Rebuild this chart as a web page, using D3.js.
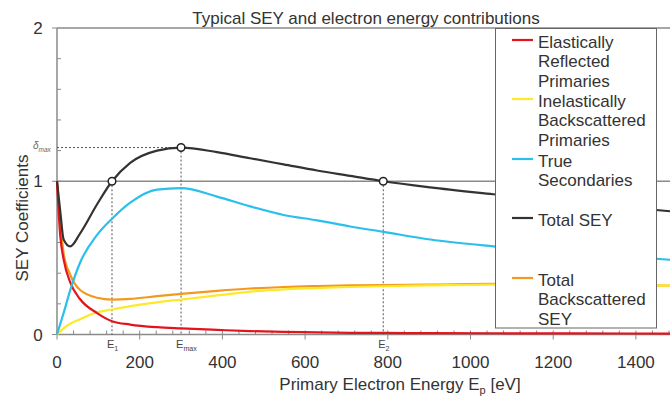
<!DOCTYPE html>
<html>
<head>
<meta charset="utf-8">
<script src="https://cdn.jsdelivr.net/npm/d3@7"></script>
<style>
  body { margin: 0; background: #fff; }
  svg { display: block; font-family: "Liberation Sans", Arial, sans-serif; }
</style>
</head>
<body>
<div id="app"></div>
<script>
const energies = [0, 8, 16, 32, 56, 97, 133, 177, 242, 300, 387, 467, 548, 629, 709, 789, 903, 1055, 1250, 1500];
const elastic = [1.0, 0.64, 0.49, 0.34, 0.23, 0.14, 0.087, 0.065, 0.048, 0.04, 0.03, 0.022, 0.017, 0.014, 0.011, 0.01, 0.009, 0.008, 0.007, 0.006];
const inelastic = [0, 0.02, 0.04, 0.07, 0.1, 0.145, 0.163, 0.185, 0.21, 0.228, 0.255, 0.28, 0.295, 0.303, 0.31, 0.315, 0.32, 0.325, 0.322, 0.318];
const trueSec = [0, 0.07, 0.14, 0.29, 0.47, 0.65, 0.755, 0.86, 0.945, 0.955, 0.9, 0.836, 0.78, 0.745, 0.705, 0.67, 0.62, 0.575, 0.53, 0.485];
const totalSey = [1.0, 0.8, 0.62, 0.575, 0.66, 0.85, 1.0, 1.12, 1.2, 1.22, 1.19, 1.15, 1.11, 1.07, 1.035, 1.0, 0.96, 0.915, 0.86, 0.8];
const totalBack = [1.0, 0.73, 0.53, 0.39, 0.29, 0.24, 0.228, 0.232, 0.25, 0.265, 0.285, 0.3, 0.31, 0.316, 0.32, 0.322, 0.325, 0.33, 0.325, 0.318];

const xTicks = [0, 200, 400, 600, 800, 1000, 1200, 1400];
const yTicks = [0, 1, 2];

// special points on the total SEY curve
const e1 = 133, eMax = 300, e2 = 789, deltaMax = 1.22;

const series = [
    { name: ["Total", "Backscattered", "SEY"], values: totalBack, color: "#f39a1e", legendY: 286 },
    { name: ["Inelastically", "Backscattered", "Primaries"], values: inelastic, color: "#fde92a", legendY: 107 },
    { name: ["Elastically", "Reflected", "Primaries"], values: elastic, color: "#e3151c", legendY: 48 },
    { name: ["True", "Secondaries"], values: trueSec, color: "#2bbfec", legendY: 167 },
    { name: ["Total SEY"], values: totalSey, color: "#333333", legendY: 226 },
];

const W = 670, H = 398;
const svg = d3.select("#app").append("svg").attr("width", W).attr("height", H);

const x = d3.scaleLinear().domain([0, 1500]).range([57, 57 + 1500 * 0.4135]);
const y = d3.scaleLinear().domain([0, 2]).range([334.5, 28]);

const grey = "#8a8a8a";

// frame lines: top (y=2) and grid at y=1
svg.append("line").attr("x1", x(0)).attr("x2", W).attr("y1", y(2)).attr("y2", y(2))
    .attr("stroke", grey).attr("stroke-width", 1.5);
svg.append("line").attr("x1", x(0)).attr("x2", W).attr("y1", y(1)).attr("y2", y(1))
    .attr("stroke", grey).attr("stroke-width", 1.5);

// bottom axis
svg.append("line").attr("x1", x(0)).attr("x2", W).attr("y1", y(0)).attr("y2", y(0))
    .attr("stroke", grey).attr("stroke-width", 1.5);
svg.selectAll(".xminor").data(d3.range(40, 1500, 40).filter(v => v % 200 !== 0)).enter()
    .append("line")
    .attr("x1", d => x(d)).attr("x2", d => x(d))
    .attr("y1", y(0) - 4).attr("y2", y(0))
    .attr("stroke", grey);
svg.selectAll(".xmajor").data(xTicks).enter()
    .append("line")
    .attr("x1", d => x(d)).attr("x2", d => x(d))
    .attr("y1", y(0) - 4).attr("y2", y(0) + 5)
    .attr("stroke", grey);
svg.selectAll(".xlab").data(xTicks).enter()
    .append("text")
    .attr("x", d => x(d)).attr("y", 368)
    .attr("text-anchor", "middle").attr("font-size", 17).attr("fill", "#333")
    .text(d => d);

// left axis
svg.append("line").attr("x1", x(0)).attr("x2", x(0)).attr("y1", y(2)).attr("y2", y(0))
    .attr("stroke", grey).attr("stroke-width", 1.5);
svg.selectAll(".yminor").data(d3.range(0.2, 2, 0.2)).enter()
    .append("line")
    .attr("x1", x(0)).attr("x2", x(0) + 4)
    .attr("y1", d => y(d)).attr("y2", d => y(d))
    .attr("stroke", grey);
svg.selectAll(".ymajor").data(yTicks).enter()
    .append("line")
    .attr("x1", x(0) - 5).attr("x2", x(0))
    .attr("y1", d => y(d)).attr("y2", d => y(d))
    .attr("stroke", grey);
svg.selectAll(".ylab").data(yTicks).enter()
    .append("text")
    .attr("x", 38).attr("y", d => y(d) + 6)
    .attr("text-anchor", "middle").attr("font-size", 17).attr("fill", "#333")
    .text(d => d);

// dotted guide lines
const dots = svg.append("g").attr("stroke", "#555").attr("stroke-width", 1).attr("stroke-dasharray", "2,2");
dots.append("line").attr("x1", x(0)).attr("x2", x(eMax)).attr("y1", y(deltaMax)).attr("y2", y(deltaMax));
[[e1, 1], [eMax, deltaMax], [e2, 1]].forEach(([e, v]) => {
    dots.append("line").attr("x1", x(e)).attr("x2", x(e)).attr("y1", y(v)).attr("y2", y(0));
});

// curves
const line = d3.line()
    .x((d, i) => x(energies[i]))
    .y(d => y(d))
    .curve(d3.curveMonotoneX);

svg.selectAll(".curve").data(series).enter()
    .append("path")
    .attr("d", d => line(d.values))
    .attr("fill", "none")
    .attr("stroke", d => d.color)
    .attr("stroke-width", 2.2);

// markers on total SEY
svg.selectAll(".mark").data([[e1, 1], [eMax, deltaMax], [e2, 1]]).enter()
    .append("circle")
    .attr("cx", d => x(d[0])).attr("cy", d => y(d[1]))
    .attr("r", 3.8)
    .attr("fill", "#fff").attr("stroke", "#222").attr("stroke-width", 1.5);

// E labels under the axis
function subLabel(px, py, main, sub, size) {
    const t = svg.append("text").attr("x", px).attr("y", py)
        .attr("font-size", size).attr("fill", "#444");
    t.append("tspan").text(main);
    t.append("tspan").attr("font-size", size * 0.65).attr("dy", 3).text(sub);
    return t;
}
subLabel(x(e1) - 5, 348, "E", "1", 11);
subLabel(x(eMax) - 5, 348, "E", "max", 11);
subLabel(x(e2) - 5, 348, "E", "2", 11);
subLabel(33, y(deltaMax) + 1, "δ", "max", 10).attr("font-style", "italic").attr("fill", "#666");

// titles
svg.append("text").attr("x", 366).attr("y", 24)
    .attr("text-anchor", "middle").attr("font-size", 17).attr("fill", "#333")
    .text("Typical SEY and electron energy contributions");

const xt = svg.append("text").attr("x", 400).attr("y", 390)
    .attr("text-anchor", "middle").attr("font-size", 17).attr("fill", "#333");
xt.append("tspan").text("Primary Electron Energy  E");
xt.append("tspan").attr("font-size", 11).attr("dy", 4).text("p");
xt.append("tspan").attr("dy", -4).text(" [eV]");

svg.append("text")
    .attr("transform", "translate(28,218) rotate(-90)")
    .attr("text-anchor", "middle").attr("font-size", 17).attr("fill", "#333")
    .text("SEY Coefficients");

// legend
const legend = svg.append("g");
legend.append("rect")
    .attr("x", 495.5).attr("y", 28.5).attr("width", 161).attr("height", 299.5)
    .attr("fill", "#fff").attr("stroke", "#666").attr("stroke-width", 1);

const legendOrder = [2, 1, 3, 4, 0].map(i => series[i]);
legendOrder.forEach(s => {
    legend.append("line")
        .attr("x1", 512).attr("x2", 533)
        .attr("y1", s.legendY - 8).attr("y2", s.legendY - 8)
        .attr("stroke", s.color).attr("stroke-width", 2.2);
    s.name.forEach((t, i) => {
        legend.append("text")
            .attr("x", 538).attr("y", s.legendY + i * 19.4)
            .attr("font-size", 17).attr("fill", "#333")
            .text(t);
    });
});
</script>
</body>
</html>
